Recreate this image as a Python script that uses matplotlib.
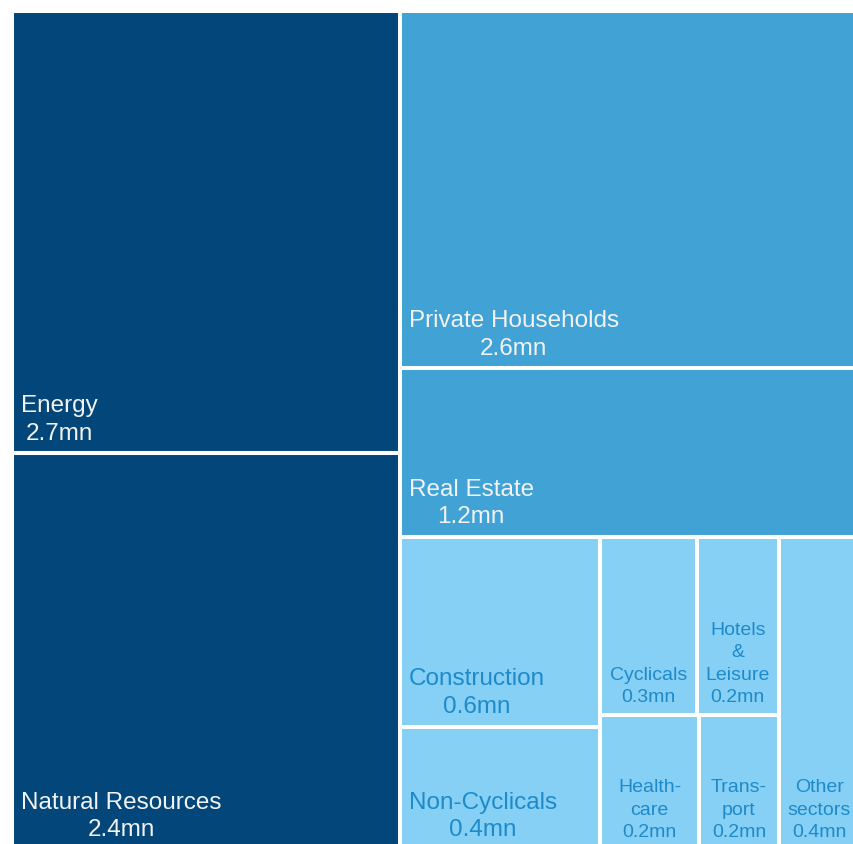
import matplotlib.pyplot as plt
from matplotlib.patches import Rectangle

plt.rcParams['font.family'] = ['Liberation Sans', 'DejaVu Sans']

# loans by sector, mn (estimated from the tile areas)
sectors = ["Energy", "Natural Resources", "Private Households", "Real Estate",
           "Construction", "Non-Cyclicals", "Cyclicals", "Hotels\n&\nLeisure",
           "Health-\ncare", "Trans-\nport", "Other\nsectors"]
amounts = [2.70, 2.42, 2.59, 1.22, 0.60, 0.39, 0.27, 0.23, 0.21, 0.17, 0.40]

# nesting of the treemap (indices into sectors), split direction alternates
groups = [[0, 1], [2, 3, [[4, 5], [[6, 7], [8, 9]], 10]]]

# colour tier per sector
tier = [0, 0, 1, 1, 2, 2, 2, 2, 2, 2, 2]
fills = ["#03477A", "#40A2D5", "#85D0F4"]
text_cols = ["#F2F2F2", "#F2F2F2", "#1E8ACA"]


def total(node):
    if isinstance(node, int):
        return amounts[node]
    return sum(total(c) for c in node)


def layout(node, x, y, w, h, horizontal, out):
    if isinstance(node, int):
        out[node] = (x, y, w, h)
        return
    tot = total(node)
    off = 0
    for c in node:
        f = total(c) / tot
        if horizontal:
            layout(c, x + off * w, y, w * f, h, False, out)
        else:
            layout(c, x, y + off * h, w, h * f, True, out)
        off += f


boxes = {}
layout(groups, 0, 0, 1, 1, True, boxes)

fig = plt.figure(figsize=(8.54, 8.45), dpi=100)
ax = fig.add_axes([12 / 854, -6 / 845, 848 / 854, 839 / 845])
ax.set_xlim(0, 1)
ax.set_ylim(1, 0)
ax.axis("off")

for i, name in enumerate(sectors):
    x, y, w, h = boxes[i]
    ax.add_patch(Rectangle((x, y), w, h, facecolor=fills[tier[i]],
                           edgecolor="white", linewidth=2.9))
    label = f"{name}\n{amounts[i]:.1f}mn"
    if w > 0.18:
        ax.annotate(label, (x, y + h), xytext=(6.5, 7), textcoords="offset points",
                    ha="left", va="bottom", multialignment="center",
                    fontsize=17.5, color=text_cols[tier[i]], linespacing=1.32)
    else:
        ax.annotate(label, (x + w / 2, y + h), xytext=(0, 7), textcoords="offset points",
                    ha="center", va="bottom", multialignment="center",
                    fontsize=14, color=text_cols[tier[i]], linespacing=1.42)

fig.savefig("out.png", dpi=100)
